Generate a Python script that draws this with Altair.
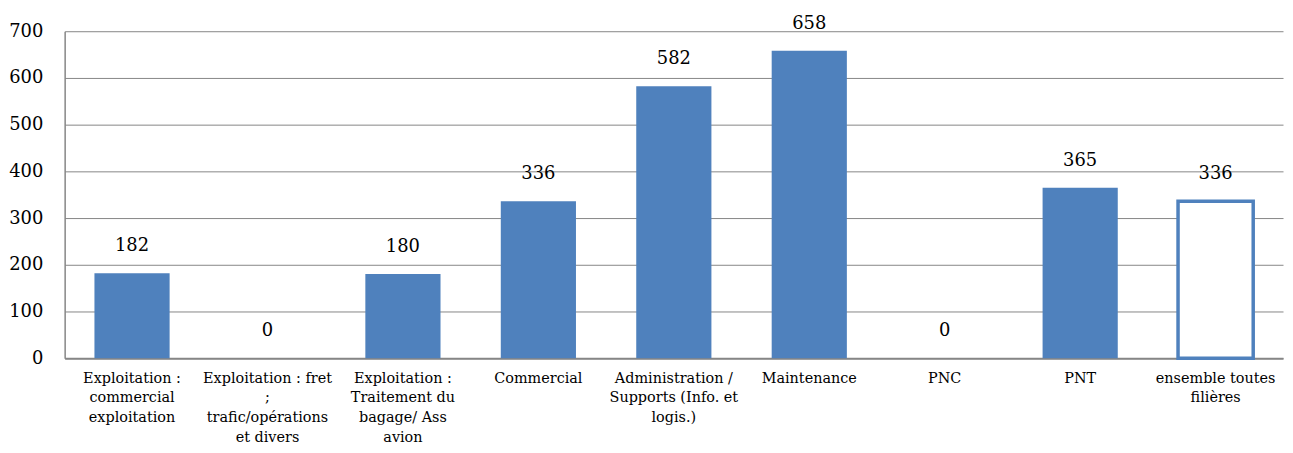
import altair as alt
import pandas as pd

categories = [
    "Exploitation :|commercial|exploitation",
    "Exploitation : fret|;|trafic/opérations|et divers",
    "Exploitation :|Traitement du|bagage/ Ass|avion",
    "Commercial",
    "Administration /|Supports (Info. et|logis.)",
    "Maintenance",
    "PNC",
    "PNT",
    "ensemble toutes|filières",
]
values = [182, 0, 180, 336, 582, 658, 0, 365, 336]
kinds = ["filled"] * 8 + ["outline"]

df = pd.DataFrame({"cat": categories, "val": values, "kind": kinds})

FONT = "'DejaVu Serif', serif"
BLUE = "#4F81BD"

x = alt.X("cat:N", sort=categories, title=None,
          scale=alt.Scale(paddingInner=0.445, paddingOuter=0.22),
          axis=alt.Axis(labelExpr="split(datum.label, '|')", labelAngle=0,
                        labelFontSize=14.5, labelFont=FONT, labelColor="#000",
                        labelLineHeight=20, labelPadding=13, ticks=False,
                        domainColor="#868686", domainWidth=2, grid=False,
                        labelBaseline="top"))
y = alt.Y("val:Q", title=None,
          scale=alt.Scale(domain=[0, 700], nice=False),
          axis=alt.Axis(values=list(range(0, 701, 100)), labelFontSize=18,
                        labelFont=FONT, labelColor="#000", labelPadding=22,
                        ticks=False, domainColor="#868686", domainWidth=1.5,
                        gridColor="#868686", gridWidth=1))

base = alt.Chart(df)

filled = base.transform_filter("datum.kind == 'filled'").mark_bar(color=BLUE).encode(x=x, y=y)
outline = base.transform_filter("datum.kind == 'outline'").mark_bar(
    fill="white", stroke=BLUE, strokeWidth=3.5).encode(x=x, y=y)
text = base.mark_text(font=FONT, fontSize=18, dy=-18, color="#000", baseline="bottom").encode(
    x=x, y=y, text="val:Q")

chart = (filled + outline + text).properties(
    width=1226, height=329,
    autosize=alt.AutoSizeParams(type="none"),
    padding={"left": 57, "top": 22, "right": 2, "bottom": 90},
).configure_view(stroke=None)

chart.save("out.html", embed_options={"renderer": "svg", "actions": False})
